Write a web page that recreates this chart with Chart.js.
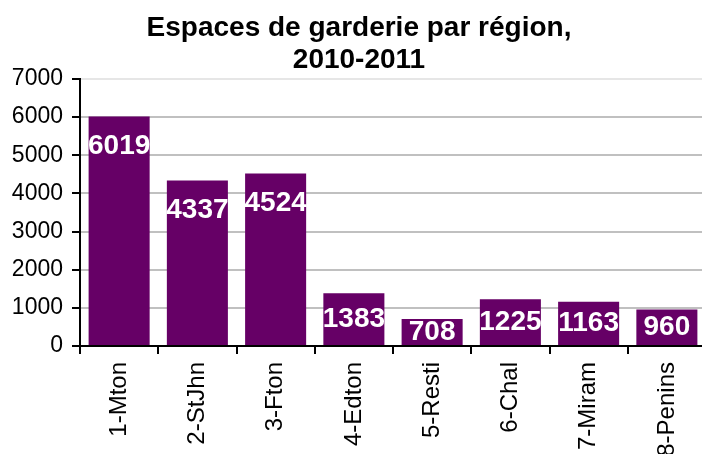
<!DOCTYPE html>
<html>
<head>
<meta charset="utf-8">
<script src="https://cdn.jsdelivr.net/npm/chart.js@4/dist/chart.umd.min.js"></script>
<style>
  html, body { margin: 0; padding: 0; background: #fff; overflow: hidden; }
  canvas { display: block; }
</style>
</head>
<body>
<canvas id="c" width="706" height="454"></canvas>
<script>
const categories = ['1-Mton', '2-StJhn', '3-Fton', '4-Edton', '5-Resti', '6-Chal', '7-Miram', '8-Penins'];
const spaces = [6019, 4337, 4524, 1383, 708, 1225, 1163, 960];
const titleLines = ['Espaces de garderie par région,', '2010-2011'];
const yMin = 0, yMax = 7000, yStep = 1000;

const FONT = '"Liberation Sans", Arial, sans-serif';

const valueLabels = {
  id: 'valueLabels',
  afterDatasetsDraw(chart) {
    const ctx = chart.ctx;
    const meta = chart.getDatasetMeta(0);
    ctx.save();
    ctx.fillStyle = '#ffffff';
    ctx.font = 'bold 28px ' + FONT;
    ctx.textAlign = 'center';
    ctx.textBaseline = 'middle';
    meta.data.forEach((el, i) => {
      const top = el.y, base = el.base;
      const y = Math.min(top + 30, (top + base) / 2);
      ctx.fillText(String(spaces[i]), el.x, y);
    });
    ctx.restore();
  }
};

new Chart(document.getElementById('c'), {
  type: 'bar',
  data: {
    labels: categories,
    datasets: [{
      data: spaces,
      backgroundColor: '#660066',
      borderWidth: 0,
      barPercentage: 0.78,
      categoryPercentage: 1.0
    }]
  },
  options: {
    responsive: false,
    animation: false,
    events: [],
    layout: { padding: { left: 12, right: 0, top: 0, bottom: 0 } },
    plugins: {
      legend: { display: false },
      tooltip: { enabled: false },
      title: {
        display: true,
        text: titleLines,
        color: '#000',
        font: { family: FONT, size: 28, weight: 'bold', lineHeight: 1.125 },
        padding: { top: 13, bottom: 3 }
      }
    },
    scales: {
      x: {
        offset: true,
        afterFit(s) { s.height = 108; },
        grid: {
          offset: true,
          drawOnChartArea: false,
          drawTicks: true,
          tickLength: 8,
          color: '#000',
          lineWidth: 2
        },
        border: { color: '#000', width: 2 },
        ticks: {
          autoSkip: false,
          minRotation: 90,
          maxRotation: 90,
          padding: 8,
          color: '#000',
          font: { family: FONT, size: 24 }
        }
      },
      y: {
        min: yMin,
        max: yMax,
        afterFit(s) { s.width = 68; },
        grid: {
          color: (c) => c.tick && c.tick.value === 0 ? 'rgba(0,0,0,0)' : (c.tick && c.tick.value === yMax ? '#e6e6e6' : '#c0c0c0'),
          lineWidth: 2,
          drawTicks: true,
          tickLength: 8,
          tickColor: '#000',
          tickWidth: 2
        },
        border: { color: '#000', width: 2 },
        ticks: {
          stepSize: yStep,
          padding: 9,
          color: '#000',
          font: { family: FONT, size: 23 },
          callback: (v) => String(v)
        }
      }
    }
  },
  plugins: [valueLabels]
});
</script>
</body>
</html>
